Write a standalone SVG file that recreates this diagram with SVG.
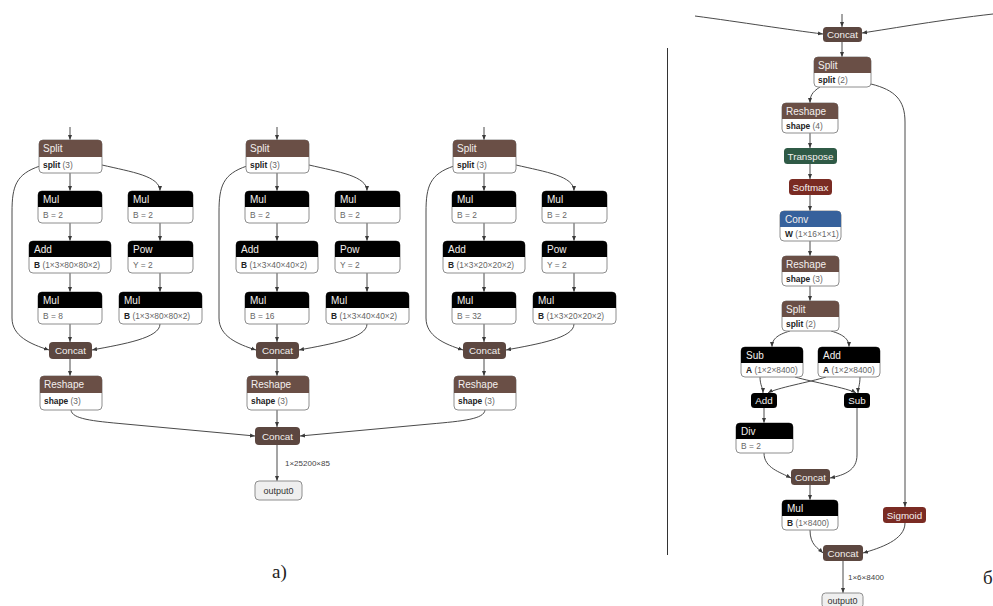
<svg xmlns="http://www.w3.org/2000/svg" width="993" height="606" viewBox="0 0 993 606">
  <style>
    text { font-family: "Liberation Sans", Arial, sans-serif; }
    .bx { fill: #fff; stroke: #8e8e8e; stroke-width: 1; }
    .blk { fill: #000; }
    .shp { fill: #6a4f46; }
    .cat { fill: #5c4740; }
    .grn { fill: #2f5a46; }
    .red { fill: #7a2b23; }
    .blu { fill: #36619c; }
    .io { fill: #efefef; stroke: #8e8e8e; stroke-width: 1; }
    .ht { fill: #f4f0ee; font-size: 10px; }
    .ct { fill: #f4f0ee; font-size: 9.8px; text-anchor: middle; }
    .bt { fill: #666; font-size: 8.4px; }
    .bt .k { fill: #222; font-weight: bold; }
    .ot { fill: #333; font-size: 9px; text-anchor: middle; }
    .el { fill: #444; font-size: 8px; }
    .cap { font-family: "Liberation Serif", "Times New Roman", serif; font-size: 19px; fill: #222; }
    .e { fill: none; stroke: #4a4a4a; stroke-width: 1; marker-end: url(#ah); }
  </style>
  <defs>
    <marker id="ah" viewBox="0 0 10 10" refX="10" refY="5" markerWidth="5" markerHeight="5" markerUnits="userSpaceOnUse" orient="auto">
      <path d="M0,1 L10,5 L0,9 Z" fill="#3a3a3a"/>
    </marker>
  </defs>

  <rect width="993" height="606" fill="#fff"/>

  <!-- ===== left graph: connectors ===== -->
  <g id="edges-left">
    <g id="edges-col1">
      <path class="e" d="M70,127 V140"/>
      <path class="e" d="M70,173 V191"/>
      <path class="e" d="M102,165 C132,172 160,176 160,191"/>
      <path class="e" d="M40,166 C16,174 12,186 12,212 L12,318 C12,336 30,344 49,350"/>
      <path class="e" d="M70,223 V241"/>
      <path class="e" d="M70,273 V292"/>
      <path class="e" d="M70,324 V342"/>
      <path class="e" d="M160,223 V241"/>
      <path class="e" d="M160,273 V292"/>
      <path class="e" d="M160,324 C160,338 124,344 92,350"/>
      <path class="e" d="M70,359 V376"/>
    </g>
    <g id="edges-col2" transform="translate(207,0)">
      <path class="e" d="M70,127 V140"/>
      <path class="e" d="M70,173 V191"/>
      <path class="e" d="M102,165 C132,172 160,176 160,191"/>
      <path class="e" d="M40,166 C16,174 12,186 12,212 L12,318 C12,336 30,344 49,350"/>
      <path class="e" d="M70,223 V241"/>
      <path class="e" d="M70,273 V292"/>
      <path class="e" d="M70,324 V342"/>
      <path class="e" d="M160,223 V241"/>
      <path class="e" d="M160,273 V292"/>
      <path class="e" d="M160,324 C160,338 124,344 92,350"/>
      <path class="e" d="M70,359 V376"/>
    </g>
    <g id="edges-col3" transform="translate(414,0)">
      <path class="e" d="M70,127 V140"/>
      <path class="e" d="M70,173 V191"/>
      <path class="e" d="M102,165 C132,172 160,176 160,191"/>
      <path class="e" d="M40,166 C16,174 12,186 12,212 L12,318 C12,336 30,344 49,350"/>
      <path class="e" d="M70,223 V241"/>
      <path class="e" d="M70,273 V292"/>
      <path class="e" d="M70,324 V342"/>
      <path class="e" d="M160,223 V241"/>
      <path class="e" d="M160,273 V292"/>
      <path class="e" d="M160,324 C160,338 124,344 92,350"/>
      <path class="e" d="M70,359 V376"/>
    </g>
    <path class="e" d="M71,410 C72,419 92,421 125,424 L255,436"/>
    <path class="e" d="M277,410 V427"/>
    <path class="e" d="M485,410 C484,419 464,421 430,424 L300,436"/>
    <path class="e" d="M277,445 V481"/>
    <text class="el" x="285" y="466">1×25200×85</text>
  </g>

  <!-- ===== left graph: nodes, column 1 ===== -->
  <g id="col1">
    <g id="split-1">
      <rect class="bx" x="39" y="140" width="63" height="33" rx="4"/>
      <rect class="shp" x="39" y="140" width="63" height="17" rx="4"/><rect class="shp" x="39" y="152" width="63" height="5"/>
      <text class="ht" x="43" y="152">Split</text>
      <text class="bt" x="43" y="168"><tspan class="k">split</tspan> (3)</text>
    </g>
    <g id="mul-1a">
      <rect class="bx" x="38" y="191" width="64" height="32" rx="4"/>
      <rect class="blk" x="38" y="191" width="64" height="16" rx="4"/><rect class="blk" x="38" y="202" width="64" height="5"/>
      <text class="ht" x="43" y="203">Mul</text>
      <text class="bt" x="43" y="218">B = 2</text>
    </g>
    <g id="mul-1b">
      <rect class="bx" x="128" y="191" width="65" height="32" rx="4"/>
      <rect class="blk" x="128" y="191" width="65" height="16" rx="4"/><rect class="blk" x="128" y="202" width="65" height="5"/>
      <text class="ht" x="133" y="203">Mul</text>
      <text class="bt" x="133" y="218">B = 2</text>
    </g>
    <g id="add-1">
      <rect class="bx" x="29" y="241" width="82" height="32" rx="4"/>
      <rect class="blk" x="29" y="241" width="82" height="16" rx="4"/><rect class="blk" x="29" y="252" width="82" height="5"/>
      <text class="ht" x="34" y="253">Add</text>
      <text class="bt" x="34" y="268"><tspan class="k">B</tspan> (1×3×80×80×2)</text>
    </g>
    <g id="pow-1">
      <rect class="bx" x="128" y="241" width="65" height="32" rx="4"/>
      <rect class="blk" x="128" y="241" width="65" height="16" rx="4"/><rect class="blk" x="128" y="252" width="65" height="5"/>
      <text class="ht" x="133" y="253">Pow</text>
      <text class="bt" x="133" y="268">Y = 2</text>
    </g>
    <g id="mul-1c">
      <rect class="bx" x="38" y="292" width="64" height="32" rx="4"/>
      <rect class="blk" x="38" y="292" width="64" height="16" rx="4"/><rect class="blk" x="38" y="303" width="64" height="5"/>
      <text class="ht" x="43" y="304">Mul</text>
      <text class="bt" x="43" y="319">B = 8</text>
    </g>
    <g id="mul-1d">
      <rect class="bx" x="119" y="292" width="83" height="32" rx="4"/>
      <rect class="blk" x="119" y="292" width="83" height="16" rx="4"/><rect class="blk" x="119" y="303" width="83" height="5"/>
      <text class="ht" x="124" y="304">Mul</text>
      <text class="bt" x="124" y="319"><tspan class="k">B</tspan> (1×3×80×80×2)</text>
    </g>
    <g id="concat-1">
      <rect class="cat" x="49" y="342" width="43" height="17" rx="4"/>
      <text class="ct" x="70.5" y="354">Concat</text>
    </g>
    <g id="reshape-1">
      <rect class="bx" x="40" y="376" width="62" height="34" rx="4"/>
      <rect class="shp" x="40" y="376" width="62" height="17" rx="4"/><rect class="shp" x="40" y="388" width="62" height="5"/>
      <text class="ht" x="44" y="388">Reshape</text>
      <text class="bt" x="44" y="404"><tspan class="k">shape</tspan> (3)</text>
    </g>
  </g>

  <!-- ===== column 2 ===== -->
  <g id="col2" transform="translate(207,0)">
    <g id="split-2">
      <rect class="bx" x="39" y="140" width="63" height="33" rx="4"/>
      <rect class="shp" x="39" y="140" width="63" height="17" rx="4"/><rect class="shp" x="39" y="152" width="63" height="5"/>
      <text class="ht" x="43" y="152">Split</text>
      <text class="bt" x="43" y="168"><tspan class="k">split</tspan> (3)</text>
    </g>
    <g id="mul-2a">
      <rect class="bx" x="38" y="191" width="64" height="32" rx="4"/>
      <rect class="blk" x="38" y="191" width="64" height="16" rx="4"/><rect class="blk" x="38" y="202" width="64" height="5"/>
      <text class="ht" x="43" y="203">Mul</text>
      <text class="bt" x="43" y="218">B = 2</text>
    </g>
    <g id="mul-2b">
      <rect class="bx" x="128" y="191" width="65" height="32" rx="4"/>
      <rect class="blk" x="128" y="191" width="65" height="16" rx="4"/><rect class="blk" x="128" y="202" width="65" height="5"/>
      <text class="ht" x="133" y="203">Mul</text>
      <text class="bt" x="133" y="218">B = 2</text>
    </g>
    <g id="add-2">
      <rect class="bx" x="29" y="241" width="82" height="32" rx="4"/>
      <rect class="blk" x="29" y="241" width="82" height="16" rx="4"/><rect class="blk" x="29" y="252" width="82" height="5"/>
      <text class="ht" x="34" y="253">Add</text>
      <text class="bt" x="34" y="268"><tspan class="k">B</tspan> (1×3×40×40×2)</text>
    </g>
    <g id="pow-2">
      <rect class="bx" x="128" y="241" width="65" height="32" rx="4"/>
      <rect class="blk" x="128" y="241" width="65" height="16" rx="4"/><rect class="blk" x="128" y="252" width="65" height="5"/>
      <text class="ht" x="133" y="253">Pow</text>
      <text class="bt" x="133" y="268">Y = 2</text>
    </g>
    <g id="mul-2c">
      <rect class="bx" x="38" y="292" width="64" height="32" rx="4"/>
      <rect class="blk" x="38" y="292" width="64" height="16" rx="4"/><rect class="blk" x="38" y="303" width="64" height="5"/>
      <text class="ht" x="43" y="304">Mul</text>
      <text class="bt" x="43" y="319">B = 16</text>
    </g>
    <g id="mul-2d">
      <rect class="bx" x="119" y="292" width="83" height="32" rx="4"/>
      <rect class="blk" x="119" y="292" width="83" height="16" rx="4"/><rect class="blk" x="119" y="303" width="83" height="5"/>
      <text class="ht" x="124" y="304">Mul</text>
      <text class="bt" x="124" y="319"><tspan class="k">B</tspan> (1×3×40×40×2)</text>
    </g>
    <g id="concat-2">
      <rect class="cat" x="49" y="342" width="43" height="17" rx="4"/>
      <text class="ct" x="70.5" y="354">Concat</text>
    </g>
    <g id="reshape-2">
      <rect class="bx" x="40" y="376" width="62" height="34" rx="4"/>
      <rect class="shp" x="40" y="376" width="62" height="17" rx="4"/><rect class="shp" x="40" y="388" width="62" height="5"/>
      <text class="ht" x="44" y="388">Reshape</text>
      <text class="bt" x="44" y="404"><tspan class="k">shape</tspan> (3)</text>
    </g>
  </g>

  <!-- ===== column 3 ===== -->
  <g id="col3" transform="translate(414,0)">
    <g id="split-3">
      <rect class="bx" x="39" y="140" width="63" height="33" rx="4"/>
      <rect class="shp" x="39" y="140" width="63" height="17" rx="4"/><rect class="shp" x="39" y="152" width="63" height="5"/>
      <text class="ht" x="43" y="152">Split</text>
      <text class="bt" x="43" y="168"><tspan class="k">split</tspan> (3)</text>
    </g>
    <g id="mul-3a">
      <rect class="bx" x="38" y="191" width="64" height="32" rx="4"/>
      <rect class="blk" x="38" y="191" width="64" height="16" rx="4"/><rect class="blk" x="38" y="202" width="64" height="5"/>
      <text class="ht" x="43" y="203">Mul</text>
      <text class="bt" x="43" y="218">B = 2</text>
    </g>
    <g id="mul-3b">
      <rect class="bx" x="128" y="191" width="65" height="32" rx="4"/>
      <rect class="blk" x="128" y="191" width="65" height="16" rx="4"/><rect class="blk" x="128" y="202" width="65" height="5"/>
      <text class="ht" x="133" y="203">Mul</text>
      <text class="bt" x="133" y="218">B = 2</text>
    </g>
    <g id="add-3">
      <rect class="bx" x="29" y="241" width="82" height="32" rx="4"/>
      <rect class="blk" x="29" y="241" width="82" height="16" rx="4"/><rect class="blk" x="29" y="252" width="82" height="5"/>
      <text class="ht" x="34" y="253">Add</text>
      <text class="bt" x="34" y="268"><tspan class="k">B</tspan> (1×3×20×20×2)</text>
    </g>
    <g id="pow-3">
      <rect class="bx" x="128" y="241" width="65" height="32" rx="4"/>
      <rect class="blk" x="128" y="241" width="65" height="16" rx="4"/><rect class="blk" x="128" y="252" width="65" height="5"/>
      <text class="ht" x="133" y="253">Pow</text>
      <text class="bt" x="133" y="268">Y = 2</text>
    </g>
    <g id="mul-3c">
      <rect class="bx" x="38" y="292" width="64" height="32" rx="4"/>
      <rect class="blk" x="38" y="292" width="64" height="16" rx="4"/><rect class="blk" x="38" y="303" width="64" height="5"/>
      <text class="ht" x="43" y="304">Mul</text>
      <text class="bt" x="43" y="319">B = 32</text>
    </g>
    <g id="mul-3d">
      <rect class="bx" x="119" y="292" width="83" height="32" rx="4"/>
      <rect class="blk" x="119" y="292" width="83" height="16" rx="4"/><rect class="blk" x="119" y="303" width="83" height="5"/>
      <text class="ht" x="124" y="304">Mul</text>
      <text class="bt" x="124" y="319"><tspan class="k">B</tspan> (1×3×20×20×2)</text>
    </g>
    <g id="concat-3">
      <rect class="cat" x="49" y="342" width="43" height="17" rx="4"/>
      <text class="ct" x="70.5" y="354">Concat</text>
    </g>
    <g id="reshape-3">
      <rect class="bx" x="40" y="376" width="62" height="34" rx="4"/>
      <rect class="shp" x="40" y="376" width="62" height="17" rx="4"/><rect class="shp" x="40" y="388" width="62" height="5"/>
      <text class="ht" x="44" y="388">Reshape</text>
      <text class="bt" x="44" y="404"><tspan class="k">shape</tspan> (3)</text>
    </g>
  </g>

  <g id="concat-out-a">
    <rect class="cat" x="255" y="427" width="45" height="18" rx="4"/>
    <text class="ct" x="277.5" y="439.5">Concat</text>
  </g>
  <g id="output-a">
    <rect class="io" x="255" y="481" width="47" height="19" rx="4"/>
    <text class="ot" x="278.5" y="494">output0</text>
  </g>
  <text class="cap" x="272" y="578">a)</text>

  <!-- divider between the two graphs -->
  <line x1="667.5" y1="48" x2="667.5" y2="555" stroke="#333" stroke-width="1"/>

  <!-- ===== right graph: connectors ===== -->
  <g id="edges-right">
    <path class="e" d="M695,16 C740,22 790,30 823,34"/>
    <path class="e" d="M993,14 C940,20 895,28 862,33"/>
    <path class="e" d="M842,14 V27"/>
    <path class="e" d="M842,42 V57"/>
    <path class="e" d="M820,87 C812,92 810,96 810,103"/>
    <path class="e" d="M810,133 V148"/>
    <path class="e" d="M810,164 V179"/>
    <path class="e" d="M810,195 V211"/>
    <path class="e" d="M810,241 V256"/>
    <path class="e" d="M810,286 V301"/>
    <path class="e" d="M790,331 C776,335 772,340 772,347"/>
    <path class="e" d="M831,331 C845,335 849,340 849,347"/>
    <path class="e" d="M760,377 C760,385 763,388 763,393"/>
    <path class="e" d="M795,377 C812,382 848,388 856,393"/>
    <path class="e" d="M826,377 C810,382 776,388 768,393"/>
    <path class="e" d="M860,377 C860,385 858,388 858,393"/>
    <path class="e" d="M764,408 V423"/>
    <path class="e" d="M764,453 C764,468 780,472 791,478"/>
    <path class="e" d="M857,408 L857,455 C857,470 845,475 830,478"/>
    <path class="e" d="M810,485 V500"/>
    <path class="e" d="M871,84 C895,90 905,100 905,122 L905,507"/>
    <path class="e" d="M810,530 C810,545 818,548 823,553"/>
    <path class="e" d="M905,523 C905,540 880,548 863,553"/>
    <path class="e" d="M843,561 V593"/>
    <text class="el" x="848" y="580">1×6×8400</text>
  </g>

  <!-- ===== right graph: nodes ===== -->
  <g id="r-concat-in">
    <rect class="cat" x="823" y="27" width="39" height="15" rx="3.5"/>
    <text class="ct" x="842.5" y="38">Concat</text>
  </g>
  <g id="r-split-1">
    <rect class="bx" x="814" y="57" width="57" height="30" rx="4"/>
    <rect class="shp" x="814" y="57" width="57" height="16" rx="4"/><rect class="shp" x="814" y="68" width="57" height="5"/>
    <text class="ht" x="818" y="69">Split</text>
    <text class="bt" x="818" y="83"><tspan class="k">split</tspan> (2)</text>
  </g>
  <g id="r-reshape-1">
    <rect class="bx" x="782" y="103" width="56" height="30" rx="4"/>
    <rect class="shp" x="782" y="103" width="56" height="16" rx="4"/><rect class="shp" x="782" y="114" width="56" height="5"/>
    <text class="ht" x="786" y="115">Reshape</text>
    <text class="bt" x="786" y="129"><tspan class="k">shape</tspan> (4)</text>
  </g>
  <g id="r-transpose">
    <rect class="grn" x="784" y="148" width="53" height="16" rx="3.5"/>
    <text class="ct" x="810.5" y="159.5">Transpose</text>
  </g>
  <g id="r-softmax">
    <rect class="red" x="789" y="179" width="43" height="16" rx="3.5"/>
    <text class="ct" x="810.5" y="190.5">Softmax</text>
  </g>
  <g id="r-conv">
    <rect class="bx" x="780" y="211" width="61" height="30" rx="4"/>
    <rect class="blu" x="780" y="211" width="61" height="16" rx="4"/><rect class="blu" x="780" y="222" width="61" height="5"/>
    <text class="ht" x="785" y="223">Conv</text>
    <text class="bt" x="785" y="237"><tspan class="k">W</tspan> (1×16×1×1)</text>
  </g>
  <g id="r-reshape-2">
    <rect class="bx" x="782" y="256" width="57" height="30" rx="4"/>
    <rect class="shp" x="782" y="256" width="57" height="16" rx="4"/><rect class="shp" x="782" y="267" width="57" height="5"/>
    <text class="ht" x="786" y="268">Reshape</text>
    <text class="bt" x="786" y="282"><tspan class="k">shape</tspan> (3)</text>
  </g>
  <g id="r-split-2">
    <rect class="bx" x="782" y="301" width="57" height="30" rx="4"/>
    <rect class="shp" x="782" y="301" width="57" height="16" rx="4"/><rect class="shp" x="782" y="312" width="57" height="5"/>
    <text class="ht" x="786" y="313">Split</text>
    <text class="bt" x="786" y="327"><tspan class="k">split</tspan> (2)</text>
  </g>
  <g id="r-sub-1">
    <rect class="bx" x="741" y="347" width="62" height="30" rx="4"/>
    <rect class="blk" x="741" y="347" width="62" height="16" rx="4"/><rect class="blk" x="741" y="358" width="62" height="5"/>
    <text class="ht" x="746" y="359">Sub</text>
    <text class="bt" x="746" y="373"><tspan class="k">A</tspan> (1×2×8400)</text>
  </g>
  <g id="r-add-1">
    <rect class="bx" x="818" y="347" width="62" height="30" rx="4"/>
    <rect class="blk" x="818" y="347" width="62" height="16" rx="4"/><rect class="blk" x="818" y="358" width="62" height="5"/>
    <text class="ht" x="823" y="359">Add</text>
    <text class="bt" x="823" y="373"><tspan class="k">A</tspan> (1×2×8400)</text>
  </g>
  <g id="r-add-2">
    <rect class="blk" x="751" y="393" width="26" height="15" rx="3.5"/>
    <text class="ct" x="764" y="404">Add</text>
  </g>
  <g id="r-sub-2">
    <rect class="blk" x="844" y="393" width="26" height="15" rx="3.5"/>
    <text class="ct" x="857" y="404">Sub</text>
  </g>
  <g id="r-div">
    <rect class="bx" x="736" y="423" width="57" height="30" rx="4"/>
    <rect class="blk" x="736" y="423" width="57" height="16" rx="4"/><rect class="blk" x="736" y="434" width="57" height="5"/>
    <text class="ht" x="741" y="435">Div</text>
    <text class="bt" x="741" y="449">B = 2</text>
  </g>
  <g id="r-concat-1">
    <rect class="cat" x="791" y="469" width="39" height="16" rx="3.5"/>
    <text class="ct" x="810.5" y="480.5">Concat</text>
  </g>
  <g id="r-mul">
    <rect class="bx" x="782" y="500" width="56" height="30" rx="4"/>
    <rect class="blk" x="782" y="500" width="56" height="16" rx="4"/><rect class="blk" x="782" y="511" width="56" height="5"/>
    <text class="ht" x="787" y="512">Mul</text>
    <text class="bt" x="787" y="526"><tspan class="k">B</tspan> (1×8400)</text>
  </g>
  <g id="r-sigmoid">
    <rect class="red" x="883" y="507" width="43" height="16" rx="3.5"/>
    <text class="ct" x="904.5" y="518.5">Sigmoid</text>
  </g>
  <g id="r-concat-out">
    <rect class="cat" x="823" y="545" width="40" height="16" rx="3.5"/>
    <text class="ct" x="843" y="556.5">Concat</text>
  </g>
  <g id="r-output">
    <rect class="io" x="822" y="593" width="41" height="15" rx="3.5"/>
    <text class="ot" x="842.5" y="604">output0</text>
  </g>
  <text class="cap" x="983" y="584">б</text>
</svg>
